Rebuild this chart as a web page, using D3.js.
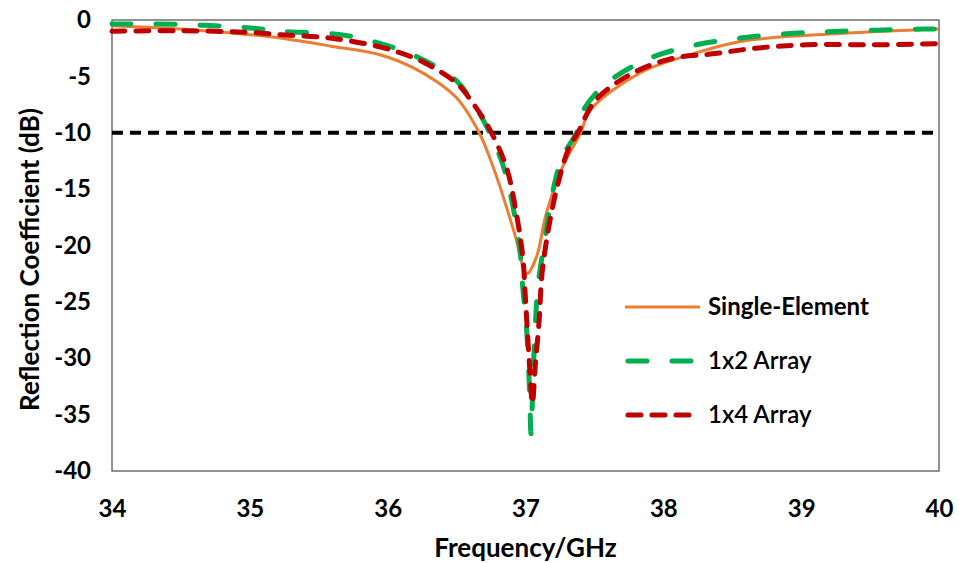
<!DOCTYPE html>
<html>
<head>
<meta charset="utf-8">
<script src="https://cdn.jsdelivr.net/npm/d3@7"></script>
<style>
  body { margin: 0; background: #fff; }
  #chart { width: 959px; height: 563px; }
  text { font-family: Lato, "Open Sans", sans-serif; fill: #000; }
</style>
</head>
<body>
<div id="chart"></div>
<script>
// ||================================||
// || DATA                           ||
// ||================================||

var xTicks = [34, 35, 36, 37, 38, 39, 40];
var yTicks = [0, -5, -10, -15, -20, -25, -30, -35, -40];

var singleFreq = [34, 34.5, 35, 35.22, 35.58, 35.95, 36.18, 36.36, 36.5, 36.6, 36.68, 36.74, 36.81, 36.92, 37.01, 37.08, 37.15, 37.27, 37.4, 37.47, 37.83, 38.19, 38.56, 39.28, 40];
var singleS11  = [-0.5, -0.8, -1.3, -1.6, -2.3, -3.1, -4.2, -5.5, -6.9, -8.6, -10.4, -12.2, -14.6, -18.9, -22.5, -21.0, -17.2, -13.0, -10, -8.0, -4.7, -3.1, -1.9, -1.2, -0.8];

var array2Freq = [34, 34.5, 35, 35.22, 35.66, 35.95, 36.22, 36.5, 36.62, 36.72, 36.84, 36.91, 36.96, 36.98, 37.01, 37.03, 37.04, 37.06, 37.09, 37.14, 37.2, 37.27, 37.37, 37.42, 37.59, 37.9, 38.24, 38.56, 38.92, 39.28, 39.89, 40];
var array2S11  = [-0.35, -0.4, -0.7, -1.0, -1.3, -2.1, -3.3, -5.4, -7.4, -9.5, -13.0, -16.6, -20.4, -23.7, -27.8, -33.1, -36.7, -30.0, -23.7, -19.5, -15.1, -12.1, -10, -8.0, -5.6, -3.4, -2.2, -1.6, -1.2, -1.0, -0.8, -0.8];

var array4Freq = [34, 34.5, 35, 35.22, 35.58, 35.95, 36.18, 36.3, 36.5, 36.62, 36.74, 36.86, 36.93, 36.98, 37.0, 37.03, 37.05, 37.07, 37.1, 37.12, 37.17, 37.23, 37.31, 37.38, 37.51, 37.78, 38.07, 38.36, 38.67, 39.04, 39.52, 40];
var array4S11  = [-1.0, -0.95, -1.1, -1.3, -1.6, -2.4, -3.3, -4.0, -5.6, -7.4, -9.7, -13.0, -16.9, -21.0, -24.8, -30.8, -34.0, -30.8, -26.5, -22.5, -18.3, -14.8, -11.5, -10, -7.1, -4.7, -3.4, -3.0, -2.5, -2.2, -2.2, -2.1];

var threshold = -10;

var seriesNames = ["Single-Element", "1x2 Array", "1x4 Array"];

// ||================================||
// || SETUP                          ||
// ||================================||

var width = 959,
    height = 563;

var margin = {left: 112, right: 20, top: 20, bottom: 92};

var x = d3.scaleLinear()
    .domain([34, 40])
    .range([margin.left, width - margin.right]);

var y = d3.scaleLinear()
    .domain([-40, 0])
    .range([height - margin.bottom, margin.top]);

var svg = d3.select("#chart")
  .append("svg")
    .attr("width", width)
    .attr("height", height);

var series = [
  {name: seriesNames[0], freq: singleFreq, s11: singleS11, color: "#ED7D31", dash: null, width: 3},
  {name: seriesNames[1], freq: array2Freq, s11: array2S11, color: "#00B050", dash: "19,25", width: 5},
  {name: seriesNames[2], freq: array4Freq, s11: array4S11, color: "#C00000", dash: "13,11", width: 5}
];

// ||================================||
// || AXES                           ||
// ||================================||

svg.append("rect")
    .attr("x", x(34))
    .attr("y", y(0))
    .attr("width", x(40) - x(34))
    .attr("height", y(-40) - y(0))
    .attr("fill", "none")
    .attr("stroke", "#595959")
    .attr("stroke-width", 1.3);

var yAxis = svg.append("g")
    .attr("transform", "translate(" + (margin.left - 21) + ",0)")
    .call(d3.axisLeft(y).tickValues(yTicks).tickSize(0).tickPadding(0)
      .tickFormat(function(d) { return String(d); }));
yAxis.select(".domain").remove();
yAxis.selectAll("text")
    .style("font-family", "Lato, sans-serif")
    .style("font-size", "24px")
    .style("font-weight", "bold")
    .attr("fill", "#000");

var xAxis = svg.append("g")
    .attr("transform", "translate(0," + (height - margin.bottom + 29) + ")")
    .call(d3.axisBottom(x).tickValues(xTicks).tickSize(0).tickPadding(0)
      .tickFormat(d3.format("d")));
xAxis.select(".domain").remove();
xAxis.selectAll("text")
    .style("font-family", "Lato, sans-serif")
    .style("font-size", "24px")
    .style("font-weight", "bold")
    .attr("fill", "#000");

svg.append("text")
    .attr("x", (x(34) + x(40)) / 2)
    .attr("y", 557)
    .attr("text-anchor", "middle")
    .style("font-size", "26px")
    .style("font-weight", "bold")
    .text("Frequency/GHz");

svg.append("text")
    .attr("transform", "translate(39," + ((y(0) + y(-40)) / 2 + 14) + ") rotate(-90)")
    .attr("text-anchor", "middle")
    .style("font-size", "26px")
    .style("font-weight", "bold")
    .text("Reflection Coefficient (dB)");

// ||================================||
// || LINES                          ||
// ||================================||

svg.append("line")
    .attr("x1", x(34))
    .attr("x2", x(40))
    .attr("y1", y(threshold))
    .attr("y2", y(threshold))
    .attr("stroke", "#000")
    .attr("stroke-width", 4)
    .attr("stroke-dasharray", "11,7");

var line = d3.line()
    .x(function(d) { return x(d[0]); })
    .y(function(d) { return y(d[1]); })
    .curve(d3.curveCatmullRom.alpha(0.5));

series.forEach(function(s) {
  var pts = s.freq.map(function(f, i) { return [f, s.s11[i]]; });
  svg.append("path")
      .datum(pts)
      .attr("d", line)
      .attr("fill", "none")
      .attr("stroke", s.color)
      .attr("stroke-width", s.width)
      .attr("stroke-linecap", s.dash ? "round" : "butt")
      .attr("stroke-dasharray", s.dash);
});

// ||================================||
// || LEGEND                         ||
// ||================================||

var legend = svg.append("g")
    .attr("transform", "translate(625,307)");

series.forEach(function(s, i) {
  var g = legend.append("g")
      .attr("transform", "translate(0," + (i * 54) + ")");
  g.append("line")
      .attr("x1", s.dash ? 3 : 0)
      .attr("x2", 75)
      .attr("stroke", s.color)
      .attr("stroke-width", s.width)
      .attr("stroke-linecap", s.dash ? "round" : "butt")
      .attr("stroke-dasharray", s.dash);
  g.append("text")
      .attr("x", 83)
      .attr("dy", "0.35em")
      .style("font-size", "24px")
      .style("font-weight", i == 0 ? "bold" : "600")
      .text(s.name);
});
</script>
</body>
</html>
